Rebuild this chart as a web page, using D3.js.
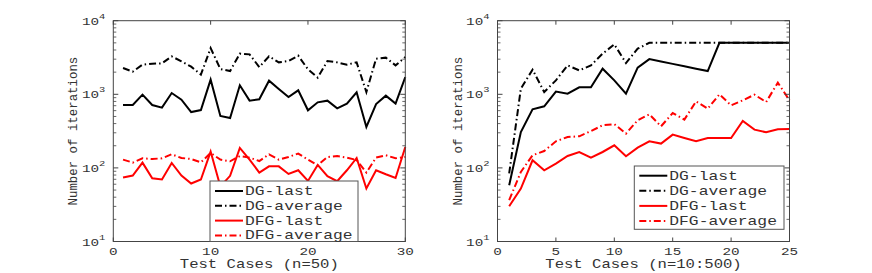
<!DOCTYPE html>
<html>
<head>
<meta charset="utf-8">
<script src="https://cdn.jsdelivr.net/npm/d3@7/dist/d3.min.js"></script>
<style>
html,body{margin:0;padding:0;background:#fff;}
svg{display:block;}
text{font-family:"Courier New","Liberation Mono","DejaVu Sans Mono",monospace;fill:#333;}
</style>
</head>
<body>
<svg id="chart" width="872" height="273"></svg>
<script>
// ---------- data ----------
const leftCases = d3.range(1, 31);
const leftDGLast = [715,715,990,715,659,1040,846,574,611,1581,507,476,1324,820,855,1531,1179,918,1132,606,778,820,645,747,1064,360,738,959,747,1715];
const leftDGAvg = [2274,2031,2528,2607,2633,3275,2802,2373,1849,4246,2203,2070,3566,3487,2344,3275,2716,2831,3350,2183,1683,2831,2716,2528,2716,1074,3048,3147,2472,3206];
const leftDFGLast = [74,78.7,118,72.3,69.5,116.7,78.7,61.3,69.5,166.7,56,78,186.5,129.7,86.4,105,105,82.7,92.9,66.5,109.6,77,65.9,92.9,136.4,52.4,92.9,81.9,73,192.3];
const leftDFGAvg = [129.7,118,135,132,135,153,136.4,132,119,159.5,129.7,123,145,138,124,153,129.7,140.6,156.5,129.7,108.6,140.6,145,138,128,86.4,138,148.5,135,140.6];

const rightCases = d3.range(1, 26);
const rightDGLast = [58,307,625,687,1087,1021,1242,1242,2229,1548,1021,2300,3010,2793,2592,2405,2229,2070,5000,5000,5000,5000,5000,5000,5000];
const rightDGAvg = [84,1194,2162,1074,1548,2472,2115,2472,3566,4766,2656,4168,5000,5000,5000,5000,5000,5000,5000,5000,5000,5000,5000,5000,5000];
const rightDFGLast = [30.1,52.4,127,92.9,114.5,145,164.5,138,164.5,203,143.8,188.8,229.8,213.9,283.4,254.8,229.8,254.8,254.8,254.8,433.6,331.3,304.5,334.5,337.6];
const rightDFGAvg = [36.4,88.1,148.5,169.7,229.8,263,268.8,317,379,393.6,292.4,443.6,534.6,367.3,556.9,453,802,638.6,998,708,827.6,989,785,1439,827.6];

const legendLabels = ["DG-last", "DG-average", "DFG-last", "DFG-average"];
const leftXTicks = [0, 10, 20, 30];
const rightXTicks = [0, 5, 10, 15, 20, 25];
const yTicks = [10, 100, 1000, 10000];
const yExponents = ["1", "2", "3", "4"];
const leftXLabel = "Test Cases (n=50)";
const rightXLabel = "Test Cases (n=10:500)";
const yLabel = "Number of iterations";

// ---------- styles ----------
const seriesStyle = [
  {color: "#000", dash: null},
  {color: "#000", dash: "7,3,1.5,3"},
  {color: "#ff0000", dash: null},
  {color: "#ff0000", dash: "7,3,1.5,3"}
];
const SX = 1.3; // horizontal text stretch of the original
const svg = d3.select("#chart");

function stretchText(g, x, y, str, size, anchor, sx) {
  return g.append("g").attr("transform", `translate(${x},${y}) scale(${sx||SX},1)`)
    .append("text").attr("font-size", size).attr("text-anchor", anchor || "start").text(str);
}

function panel(cfg) {
  const x = d3.scaleLinear().domain(cfg.xDomain).range([cfg.x0, cfg.x1]);
  const y = d3.scaleLog().domain([10, 10000]).range([cfg.y1, cfg.y0]);
  const g = svg.append("g");

  // series
  const line = d3.line().x((d, i) => x(cfg.cases[i])).y(d => y(d));
  cfg.series.forEach((s, k) => {
    g.append("path").datum(s).attr("d", line)
      .attr("fill", "none").attr("stroke", seriesStyle[k].color)
      .attr("stroke-width", 2).attr("stroke-linejoin", "miter")
      .attr("stroke-dasharray", seriesStyle[k].dash);
  });

  // ticks
  const axisColor = "#444";
  const minor = [];
  [10, 100, 1000].forEach(b => { for (let m = 2; m <= 9; m++) minor.push(b * m); });
  minor.forEach(v => {
    g.append("line").attr("x1", cfg.x0).attr("x2", cfg.x0 + 3).attr("y1", y(v)).attr("y2", y(v)).attr("stroke", axisColor).attr("stroke-width", 0.8);
    g.append("line").attr("x1", cfg.x1).attr("x2", cfg.x1 - 3).attr("y1", y(v)).attr("y2", y(v)).attr("stroke", axisColor).attr("stroke-width", 0.8);
  });
  yTicks.forEach(v => {
    g.append("line").attr("x1", cfg.x0).attr("x2", cfg.x0 + 5).attr("y1", y(v)).attr("y2", y(v)).attr("stroke", axisColor);
    g.append("line").attr("x1", cfg.x1).attr("x2", cfg.x1 - 5).attr("y1", y(v)).attr("y2", y(v)).attr("stroke", axisColor);
  });
  cfg.xTicks.forEach(v => {
    g.append("line").attr("x1", x(v)).attr("x2", x(v)).attr("y1", cfg.y1).attr("y2", cfg.y1 - 4).attr("stroke", axisColor);
    g.append("line").attr("x1", x(v)).attr("x2", x(v)).attr("y1", cfg.y0).attr("y2", cfg.y0 + 4).attr("stroke", axisColor);
  });

  // box
  g.append("rect").attr("x", cfg.x0).attr("y", cfg.y0).attr("width", cfg.x1 - cfg.x0).attr("height", cfg.y1 - cfg.y0)
    .attr("fill", "none").attr("stroke", axisColor).attr("stroke-width", 1);

  // tick labels
  cfg.xTicks.forEach(v => stretchText(g, x(v), cfg.y1 + 13, String(v), 11, "middle"));
  yTicks.forEach((v, i) => {
    const t = stretchText(g, cfg.x0 - 8, y(v) + 4, "", 11, "end");
    t.append("tspan").text("10");
    t.append("tspan").attr("font-size", 8).attr("dy", -6).text(yExponents[i]);
  });

  // axis labels
  stretchText(g, (cfg.x0 + cfg.x1) / 2, 268, cfg.xLabel, 12, "middle");
  g.append("text").attr("transform", `translate(${cfg.x0 - 36},${(cfg.y0 + cfg.y1) / 2}) rotate(-90)`)
    .attr("font-size", 12.4).attr("text-anchor", "middle").text(yLabel);

  // legend
  const L = cfg.legend;
  g.append("rect").attr("x", L.x).attr("y", L.y).attr("width", L.w).attr("height", L.h)
    .attr("fill", "#fff").attr("stroke", "#555").attr("stroke-width", 1);
  legendLabels.forEach((lab, k) => {
    const ry = L.y + L.first + k * L.step;
    g.append("line").attr("x1", L.x + 5).attr("x2", L.x + 33).attr("y1", ry).attr("y2", ry)
      .attr("stroke", seriesStyle[k].color).attr("stroke-width", 2).attr("stroke-dasharray", seriesStyle[k].dash);
    stretchText(g, L.x + 35, ry + 4, lab, 12, "start", 1.36);
  });
}

panel({
  x0: 113.3, x1: 405.3, y0: 20.7, y1: 241.5, xDomain: [0, 30], xTicks: leftXTicks,
  cases: leftCases, series: [leftDGLast, leftDGAvg, leftDFGLast, leftDFGAvg], xLabel: leftXLabel,
  legend: {x: 210, y: 181, w: 148, h: 60.5, first: 10, step: 14.8}
});
panel({
  x0: 497.5, x1: 789.5, y0: 20.7, y1: 241.5, xDomain: [0, 25], xTicks: rightXTicks,
  cases: rightCases, series: [rightDGLast, rightDGAvg, rightDFGLast, rightDFGAvg], xLabel: rightXLabel,
  legend: {x: 634.3, y: 166, w: 149.7, h: 63.3, first: 9.7, step: 15.1}
});
</script>
</body>
</html>
